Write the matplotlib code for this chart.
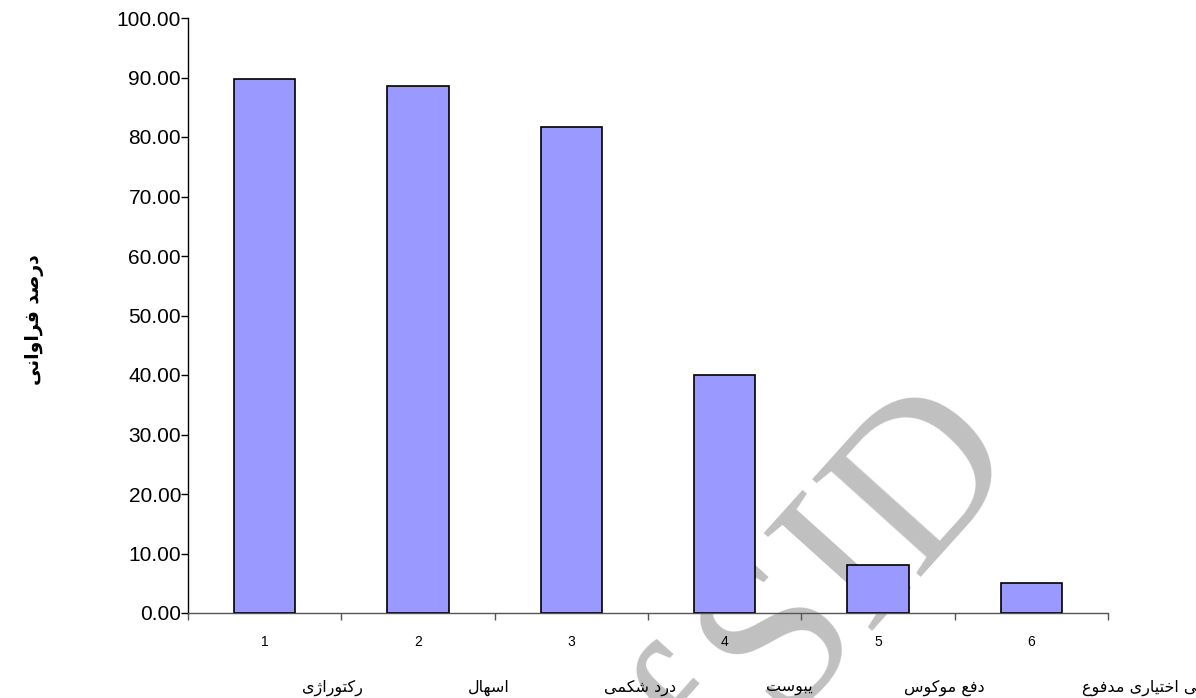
import matplotlib
matplotlib.use("Agg")
import matplotlib.pyplot as plt

# ---- data ----
categories = [1, 2, 3, 4, 5, 6]
values = [89.8, 88.6, 81.6, 40.0, 8.0, 5.0]
tick_labels = ["1", "2", "3", "4", "5", "6"]
persian_labels = ["رکتوراژی", "اسهال", "درد شکمی", "یبوست", "دفع موکوس", "بی اختیاری مدفوع"]
ylabel_text = "درصد فراوانی"
watermark = "of\u200aSID"

# ---- minimal Arabic/Persian shaping (presentation forms, visual order) ----
FORMS = {
    'ا': ('\uFE8D', '\uFE8E', None, None),
    'ب': ('\uFE8F', '\uFE90', '\uFE91', '\uFE92'),
    'ت': ('\uFE95', '\uFE96', '\uFE97', '\uFE98'),
    'خ': ('\uFEA5', '\uFEA6', '\uFEA7', '\uFEA8'),
    'د': ('\uFEA9', '\uFEAA', None, None),
    'ر': ('\uFEAD', '\uFEAE', None, None),
    'ژ': ('\uFB8A', '\uFB8B', None, None),
    'س': ('\uFEB1', '\uFEB2', '\uFEB3', '\uFEB4'),
    'ش': ('\uFEB5', '\uFEB6', '\uFEB7', '\uFEB8'),
    'ص': ('\uFEB9', '\uFEBA', '\uFEBB', '\uFEBC'),
    'ع': ('\uFEC9', '\uFECA', '\uFECB', '\uFECC'),
    'ف': ('\uFED1', '\uFED2', '\uFED3', '\uFED4'),
    'ک': ('\uFB8E', '\uFB8F', '\uFB90', '\uFB91'),
    'ل': ('\uFEDD', '\uFEDE', '\uFEDF', '\uFEE0'),
    'م': ('\uFEE1', '\uFEE2', '\uFEE3', '\uFEE4'),
    'ن': ('\uFEE5', '\uFEE6', '\uFEE7', '\uFEE8'),
    'ه': ('\uFEE9', '\uFEEA', '\uFEEB', '\uFEEC'),
    'و': ('\uFEED', '\uFEEE', None, None),
    'ی': ('\uFBFC', '\uFBFD', '\uFBFE', '\uFBFF'),
}


def shape(word):
    chars = list(word)
    out = []
    for i, c in enumerate(chars):
        if c not in FORMS:
            out.append(c)
            continue
        iso, fin, ini, med = FORMS[c]
        prev = chars[i - 1] if i > 0 else None
        nxt = chars[i + 1] if i + 1 < len(chars) else None
        jp = prev in FORMS and FORMS[prev][2] is not None
        jn = ini is not None and nxt in FORMS
        if jp and jn:
            g = med
        elif jp:
            g = fin
        elif jn:
            g = ini
        else:
            g = iso
        out.append(g)
    return ''.join(reversed(out))


W, H = 1196, 698
fig = plt.figure(figsize=(W / 100, H / 100), dpi=100)
fig.patch.set_facecolor("white")

ax = fig.add_axes([188 / W, 1 - 613 / H, (1108 - 188) / W, (613 - 18) / H])
ax.set_zorder(2)
ax.patch.set_alpha(0)

ax.bar(categories, values, width=0.4, color="#9999FF", edgecolor="black", linewidth=1.2, zorder=3)

ax.set_xlim(0.5, 6.5)
ax.set_ylim(0, 100)
ax.set_yticks(range(0, 101, 10))
ax.set_yticklabels([f"{v:.2f}" for v in range(0, 101, 10)], family="Liberation Sans", fontsize=15)

ax.set_xticks(categories)
ax.set_xticklabels(tick_labels, family="Liberation Sans", fontsize=10)
ax.tick_params(axis="x", length=0, pad=16)
ax.set_xticks([c + 0.5 for c in [0] + categories], minor=True)
ax.tick_params(axis="x", which="minor", length=5, width=1, direction="out", color="#555555")
ax.tick_params(axis="y", length=5, width=1, direction="out", pad=0)

for s in ["top", "right"]:
    ax.spines[s].set_visible(False)
ax.spines["left"].set_color("black")
ax.spines["bottom"].set_color("#555555")
ax.spines["left"].set_linewidth(1)
ax.spines["bottom"].set_linewidth(1)

# Persian category labels row
label_pos = [1.44, 2.46, 3.45, 4.42, 5.43, 6.72]
for xp, lab in zip(label_pos, persian_labels):
    ax.text(xp, -12.6, shape(lab), transform=ax.transData, ha="center", va="center",
            family=["DejaVu Sans"], fontsize=11.5, clip_on=False)

# y-axis label
fig.text(35 / W, 1 - 320 / H, shape(ylabel_text), rotation=90, ha="center", va="center",
         family=["DejaVu Sans"], fontsize=13.5, fontweight="bold")

# watermark
fig.text(1024 / W, 1 - 462 / H, watermark, rotation=48, rotation_mode="anchor",
         ha="right", va="baseline", family=["Liberation Serif", "DejaVu Serif"], fontsize=160,
         color="#c0c0c0", zorder=0.5)

fig.savefig("out.png", dpi=100)
